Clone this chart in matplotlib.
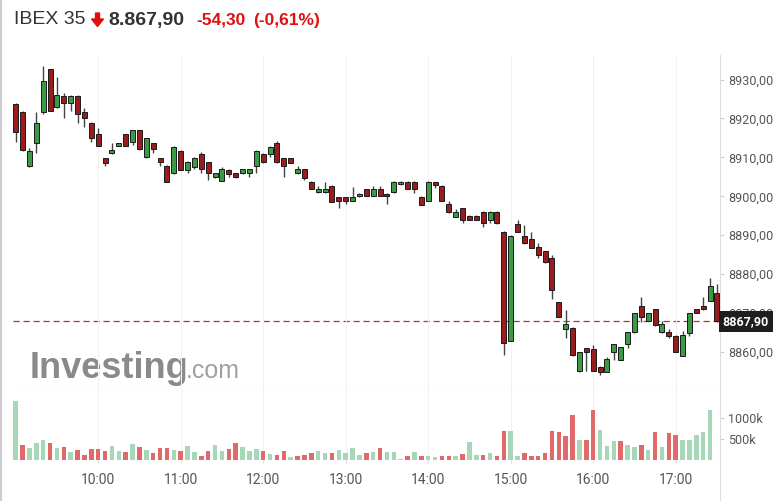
import matplotlib
matplotlib.use('Agg')  # Non-interactive backend
import matplotlib.pyplot as plt
from matplotlib.lines import Line2D
from matplotlib.patches import Polygon
from matplotlib.ticker import FuncFormatter

# 5-minute candles, 09:00 -> 17:30
opens = [8923.7, 8921.7, 8907.8, 8913.8, 8921.7, 8932.6, 8922.9, 8925.8, 8923.9, 8925.8,
         8921.7, 8918.9, 8916.0, 8909.8, 8911.0, 8912.9, 8916.0, 8914.0, 8916.9, 8910.0,
         8913.6, 8909.8, 8907.9, 8905.9, 8911.7, 8906.8, 8907.6, 8910.9, 8908.7, 8904.9,
         8904.0, 8906.8, 8905.9, 8905.9, 8905.9, 8907.8, 8910.9, 8910.9, 8913.6, 8909.8,
         8909.8, 8905.9, 8906.9, 8903.7, 8901.0, 8901.0, 8902.7, 8899.7, 8899.7, 8898.8,
         8900.0, 8901.9, 8900.1, 8901.9, 8900.7, 8901.0, 8903.1, 8903.7, 8903.7, 8899.9,
         8898.8, 8903.6, 8902.7, 8897.9, 8894.8, 8896.9, 8895.0, 8895.0, 8896.0, 8893.9,
         8896.0, 8890.9, 8862.9, 8892.8, 8889.9, 8889.0, 8887.0, 8885.9, 8884.1, 8872.8,
         8865.9, 8866.1, 8855.0, 8861.0, 8860.9, 8856.2, 8854.9, 8860.1, 8858.0, 8862.0,
         8865.1, 8871.9, 8868.0, 8871.0, 8865.1, 8865.2, 8864.2, 8859.1, 8864.8, 8871.0,
         8871.8, 8873.1, 8875.1]
highs = [8924.0, 8922.0, 8912.3, 8921.6, 8933.5, 8932.8, 8930.6, 8926.5, 8926.0, 8926.0,
         8922.6, 8919.0, 8917.6, 8909.9, 8913.6, 8913.7, 8916.1, 8917.0, 8917.0, 8915.0,
         8913.7, 8909.9, 8908.0, 8912.8, 8911.8, 8909.1, 8910.0, 8911.5, 8908.8, 8906.0,
         8907.6, 8906.9, 8906.0, 8907.0, 8907.0, 8911.8, 8911.0, 8912.8, 8914.2, 8909.9,
         8909.9, 8907.8, 8907.0, 8903.8, 8902.7, 8903.6, 8902.8, 8899.8, 8899.8, 8902.5,
         8900.8, 8902.0, 8902.7, 8902.7, 8900.8, 8903.8, 8903.8, 8903.8, 8903.8, 8900.0,
         8903.8, 8903.7, 8902.8, 8898.8, 8896.7, 8897.0, 8895.1, 8895.1, 8896.1, 8896.1,
         8896.1, 8891.0, 8890.0, 8893.9, 8892.6, 8890.9, 8887.9, 8886.0, 8884.9, 8872.9,
         8870.8, 8866.5, 8860.1, 8861.1, 8861.8, 8856.3, 8858.8, 8862.1, 8861.3, 8865.2,
         8870.0, 8874.1, 8870.1, 8871.1, 8868.0, 8865.9, 8864.3, 8865.5, 8869.9, 8871.1,
         8874.1, 8878.9, 8877.4]
lows = [8914.0, 8911.7, 8907.6, 8911.0, 8921.1, 8921.8, 8922.8, 8920.0, 8921.9, 8918.7,
        8917.9, 8914.0, 8912.8, 8907.8, 8910.8, 8912.8, 8912.8, 8913.3, 8912.0, 8909.9,
        8911.2, 8907.8, 8903.6, 8905.8, 8906.7, 8905.9, 8906.9, 8905.9, 8904.2, 8904.8,
        8904.0, 8905.0, 8904.8, 8905.8, 8905.0, 8905.9, 8908.6, 8910.0, 8908.6, 8905.0,
        8908.5, 8905.8, 8904.2, 8901.8, 8900.9, 8900.9, 8898.5, 8896.9, 8897.9, 8898.7,
        8899.9, 8900.0, 8900.0, 8900.0, 8898.0, 8900.9, 8903.0, 8901.8, 8900.8, 8897.7,
        8898.7, 8902.2, 8898.7, 8895.8, 8894.7, 8893.1, 8893.8, 8893.8, 8892.0, 8893.1,
        8893.0, 8859.2, 8862.8, 8890.8, 8887.8, 8886.7, 8884.1, 8882.9, 8873.6, 8869.0,
        8863.5, 8859.1, 8854.9, 8855.1, 8855.0, 8854.1, 8854.8, 8858.0, 8857.9, 8861.1,
        8865.0, 8867.8, 8867.9, 8866.8, 8865.0, 8863.5, 8860.0, 8859.0, 8864.2, 8870.0,
        8870.9, 8873.0, 8867.8]
closes = [8916.6, 8911.9, 8911.7, 8918.7, 8929.7, 8921.9, 8926.0, 8923.9, 8925.8, 8921.1,
          8920.0, 8914.9, 8912.9, 8908.6, 8911.9, 8913.6, 8912.9, 8916.9, 8912.1, 8914.9,
          8912.1, 8908.7, 8903.7, 8912.7, 8906.8, 8908.7, 8909.8, 8906.9, 8905.9, 8905.9,
          8906.9, 8905.7, 8904.9, 8906.9, 8906.9, 8911.7, 8908.7, 8912.7, 8908.7, 8907.8,
          8908.6, 8906.9, 8904.8, 8901.9, 8901.9, 8901.9, 8898.6, 8898.8, 8898.8, 8899.7,
          8900.7, 8900.1, 8901.9, 8900.1, 8900.1, 8903.7, 8903.7, 8901.9, 8901.9, 8897.8,
          8903.7, 8902.9, 8898.8, 8895.9, 8895.9, 8893.9, 8893.9, 8893.9, 8893.1, 8896.0,
          8893.1, 8862.2, 8889.9, 8890.9, 8887.9, 8886.8, 8884.9, 8883.0, 8875.9, 8869.1,
          8867.1, 8859.2, 8860.0, 8860.1, 8855.1, 8854.9, 8858.2, 8862.0, 8861.2, 8865.1,
          8869.9, 8869.1, 8870.0, 8866.9, 8867.1, 8864.2, 8860.1, 8864.4, 8869.9, 8870.1,
          8871.0, 8877.0, 8867.9]

# volume in thousands (last candle has none yet), g = green bar, r = red bar
volumes = [1392, 360, 282, 414, 477, 399, 282, 305, 188, 242,
           125, 266, 266, 219, 336, 219, 188, 383, 305, 242,
           164, 282, 297, 242, 227, 336, 188, 102, 219, 360,
           219, 258, 399, 305, 219, 266, 219, 149, 125, 219,
           86, 110, 125, 164, 219, 164, 164, 242, 164, 297,
           125, 164, 188, 297, 188, 188, 31, 102, 188, 102,
           102, 70, 102, 102, 102, 149, 422, 125, 125, 164,
           102, 688, 688, 102, 164, 102, 102, 164, 688, 657,
           571, 1064, 477, 477, 1181, 712, 336, 454, 454, 360,
           305, 360, 242, 657, 305, 633, 594, 477, 477, 594,
           657, 1181]
vol_dirs = ("grgggrgrgr" "rrrrggrgrg" "rrrgrggrrg" "grrgggrgrr" "grrrggrggg"
            "grgrgggrgr" "ggrrgrggrg" "rrggrrrrrr" "rrgrrgggrg" "grgrgrrggg" "gg")

hour_labels = ['10:00', '11:00', '12:00', '13:00', '14:00', '15:00', '16:00', '17:00']
price_ticks = [8860, 8870, 8880, 8890, 8900, 8910, 8920, 8930]
vol_ticks = [500, 1000]
last_price = 8867.90

W, H = 783, 501


def fx(px):
    return px / W


def fy(py):
    return 1 - py / H


def fmt_price(v, pos=None):
    return f'{v:.2f}'.replace('.', ',')


plt.rcParams['font.family'] = ['Roboto', 'DejaVu Sans']

fig = plt.figure(figsize=(W / 100, H / 100), dpi=100)
fig.patch.set_facecolor('white')

# layout in pixels
left_px, right_px = 13, 720
top_px, sep_px, base_px = 55, 387, 460.3
first_px, step_px = 15.7, 6.875

ax = fig.add_axes([fx(left_px), fy(sep_px), (right_px - left_px) / W, (sep_px - top_px) / H])
axv = fig.add_axes([fx(left_px), fy(base_px), (right_px - left_px) / W, (base_px - sep_px) / H])

xlim = ((left_px - first_px) / step_px, (right_px - first_px) / step_px)
hour_pos = [12 * (k + 1) for k in range(len(hour_labels))]

up_col, down_col = '#3a9a45', '#9a1c1c'

# candles
for i in range(len(opens)):
    o, h, l, c = opens[i], highs[i], lows[i], closes[i]
    col = up_col if c >= o else down_col
    ax.vlines(i, l, h, color='#444444', lw=1.0, zorder=2)
    ax.bar(i, max(abs(c - o), 0.35), bottom=min(o, c), width=0.72,
           color=col, edgecolor='#1a1a1a', linewidth=0.7, zorder=3)

ax.axhline(last_price, color='#b03535', lw=0.9, ls=(0, (5, 3)), zorder=1)

ax.set_xlim(*xlim)
ax.set_ylim(8930 - (sep_px - 79.5) / 3.893, 8930 + (79.5 - top_px) / 3.893)
ax.set_xticks(hour_pos)
ax.tick_params(axis='x', length=0, labelbottom=False)
ax.grid(axis='x', color='#f1f1f1', lw=0.8)
ax.yaxis.tick_right()
ax.set_yticks(price_ticks)
ax.yaxis.set_major_formatter(FuncFormatter(fmt_price))
ax.tick_params(axis='y', length=3, pad=3, color='#cccccc', labelcolor='#555555', labelsize=9)
for side in ['top', 'left']:
    ax.spines[side].set_visible(False)
ax.spines['right'].set_color('#dddddd')
ax.spines['bottom'].set_color('#cccccc')

# current price marker
ax.text(1.004, last_price, fmt_price(last_price), transform=ax.get_yaxis_transform(),
        ha='left', va='center', color='white', fontsize=9, fontweight='bold',
        bbox=dict(boxstyle='square,pad=0.3', fc='#1e1e1e', ec='none'), zorder=5)

# watermark
ax.text(fx(30), fy(378), 'Investing', transform=fig.transFigure, family='Liberation Sans',
        fontsize=26, fontweight='bold', color='#8a8a8a', va='baseline', ha='left', zorder=0)
ax.text(fx(186), fy(378), '.com', transform=fig.transFigure, family='Liberation Sans',
        fontsize=18, color='#a0a0a0', va='baseline', ha='left', zorder=0)

# volume
vcols = ['#a6d8b8' if d == 'g' else '#e06a6a' for d in vol_dirs]
axv.bar(range(len(volumes)), volumes, width=0.66, color=vcols, zorder=2)
axv.set_xlim(*xlim)
axv.set_ylim(0, (base_px - sep_px) / 21.3 * 500)
axv.set_xticks(hour_pos)
axv.set_xticklabels(hour_labels)
axv.tick_params(axis='x', length=2, pad=7, color='#dddddd', labelcolor='#555555', labelsize=10)
axv.grid(axis='x', color='#f1f1f1', lw=0.8)
axv.yaxis.tick_right()
axv.set_yticks(vol_ticks)
axv.set_yticklabels([f'{v}k' for v in vol_ticks])
axv.tick_params(axis='y', length=3, pad=3, color='#cccccc', labelcolor='#555555', labelsize=9)
for side in ['top', 'left', 'bottom']:
    axv.spines[side].set_visible(False)
axv.spines['right'].set_color('#dddddd')

# frame lines
fig.add_artist(Line2D([fx(right_px), fx(right_px)], [fy(base_px), 0], color='#dddddd', lw=0.8))
fig.add_artist(Line2D([fx(0.5), fx(0.5)], [0, 1], color='#cccccc', lw=1.5))

# header
fig.text(fx(14), fy(20), 'IBEX 35', family='Liberation Sans', fontsize=14,
         color='#333333', va='center', ha='left')
arrow = [(95.5, 13), (99.5, 13), (99.5, 19), (103.5, 19), (97.5, 26.5), (91.5, 19), (95.5, 19)]
fig.add_artist(Polygon([(fx(px), fy(py)) for px, py in arrow], closed=True,
                       transform=fig.transFigure, color='#e01010'))
fig.text(fx(108), fy(20), '8.867,90', family='Liberation Sans', fontsize=14,
         fontweight='bold', color='#333333', va='center', ha='left')
fig.text(fx(196), fy(20), '-54,30', family='Liberation Sans', fontsize=12.5,
         fontweight='bold', color='#e01010', va='center', ha='left')
fig.text(fx(253), fy(20), '(-0,61%)', family='Liberation Sans', fontsize=12.5,
         fontweight='bold', color='#e01010', va='center', ha='left')

fig.savefig('out.png', dpi=100)
plt.close(fig)
